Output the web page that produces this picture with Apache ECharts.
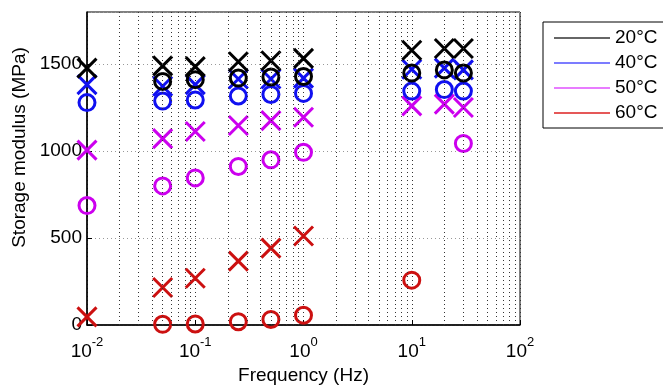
<!DOCTYPE html>
<html>
<head>
<meta charset="utf-8">
<script src="https://cdn.jsdelivr.net/npm/echarts@6/dist/echarts.min.js"></script>
<style>
  html, body { margin: 0; padding: 0; background: #fff; }
  #chart-container { width: 663px; height: 390px; }
</style>
</head>
<body>
<div id="chart-container"></div>
<script>
// frequencies (Hz) shared by all series
var freqs = [0.01, 0.05, 0.1, 0.25, 0.5, 1, 10, 20, 30];

// storage modulus (MPa), X markers and O markers per temperature (null = no point)
var x20 = [1477, 1490, 1486, 1514, 1520, 1533, 1580, 1590, 1590];
var o20 = [null, 1401, 1411, 1420, 1426, 1429, 1449, 1467, 1449];
var x40 = [1382, 1373, 1382, 1415, 1415, 1420, 1471, 1477, 1467];
var o40 = [1279, 1288, 1294, 1317, 1326, 1332, 1345, 1354, 1345];
var x50 = [1006, 1072, 1113, 1147, 1175, 1195, 1260, 1270, 1251];
var o50 = [687, 800, 846, 912, 950, 993, null, null, 1044];
var x60 = [47, 216, 269, 367, 442, 512, null, null, null];
var o60 = [null, 4, 6, 19, 32, 56, 258, null, null];

var legendNames = ['20°C', '40°C', '50°C', '60°C'];

// x tick labels: 10^exp
var xTickValues = [0.01, 0.1, 1, 10, 100];
var xTickExps = ['-2', '-1', '0', '1', '2'];

// minor log grid lines
var decades = [0.01, 0.1, 1, 10];
var minorSteps = [2, 3, 4, 5, 6, 7, 8, 9];

var colors = {
  '20°C': '#000000',
  '40°C': '#1010f0',
  '50°C': '#cc00ee',
  '60°C': '#cc1010'
};
var legendColors = ['#333333', '#5050ff', '#e050ff', '#dd2020'];

var crossPath = 'path://M0,0 L10,10 M10,0 L0,10';

function pairs(vals) {
  var out = [];
  for (var i = 0; i < freqs.length; i++) {
    if (vals[i] !== null) out.push([freqs[i], vals[i]]);
  }
  return out;
}

function markerSeries(name, vals, isCross) {
  return {
    name: name,
    type: 'scatter',
    data: pairs(vals),
    symbol: isCross ? crossPath : 'circle',
    symbolSize: isCross ? 19 : 16,
    clip: false,
    itemStyle: {
      color: 'none',
      borderColor: colors[name],
      borderWidth: 3,
      opacity: 1
    },
    emphasis: { disabled: true }
  };
}

var minorLines = [];
decades.forEach(function(d) {
  minorSteps.forEach(function(s) {
    minorLines.push({ xAxis: +(d * s).toPrecision(6) });
  });
});

var dom = document.getElementById('chart-container');
var myChart = echarts.init(dom, null, { renderer: 'canvas' });

var series = [
  markerSeries('60°C', x60, true),
  markerSeries('60°C', o60, false),
  markerSeries('50°C', x50, true),
  markerSeries('50°C', o50, false),
  markerSeries('40°C', x40, true),
  markerSeries('40°C', o40, false),
  markerSeries('20°C', x20, true),
  markerSeries('20°C', o20, false)
];
series[0].markLine = {
  silent: true,
  symbol: 'none',
  label: { show: false },
  lineStyle: { color: '#333', width: 1, type: [1, 3], opacity: 1 },
  data: minorLines
};

var option = {
  animation: false,
  textStyle: { fontFamily: 'Liberation Sans' },
  grid: {
    left: 87, top: 12, right: 143, bottom: 60,
    show: true, borderColor: '#000', borderWidth: 1
  },
  legend: {
    orient: 'vertical',
    left: 543,
    top: 22,
    padding: [6, 10, 5, 11],
    itemGap: 5,
    itemWidth: 56,
    itemHeight: 1.5,
    icon: 'rect',
    borderColor: '#000',
    borderWidth: 1,
    selectedMode: false,
    textStyle: { fontSize: 19, color: '#000', fontFamily: 'Liberation Sans', lineHeight: 20 },
    data: legendNames.map(function(n, i) {
      return { name: n, itemStyle: { color: legendColors[i], borderWidth: 0 } };
    })
  },
  xAxis: {
    type: 'log',
    logBase: 10,
    min: 0.01,
    max: 100,
    name: 'Frequency (Hz)',
    nameLocation: 'middle',
    nameGap: 41,
    nameTextStyle: { fontSize: 19, color: '#000', fontFamily: 'Liberation Sans' },
    axisLine: { lineStyle: { color: '#000', width: 1.5 } },
    axisTick: { inside: true, length: 5, lineStyle: { color: '#000' } },
    splitLine: { show: true, lineStyle: { color: '#333', width: 1, type: [1, 3] } },
    axisLabel: {
      margin: 11,
      color: '#000',
      formatter: function(v) {
        var best = 0;
        for (var i = 0; i < xTickValues.length; i++) {
          if (Math.abs(Math.log10(xTickValues[i]) - Math.log10(v)) < Math.abs(Math.log10(xTickValues[best]) - Math.log10(v))) best = i;
        }
        return '{b|10}{s|' + xTickExps[best] + '}';
      },
      rich: {
        b: { fontSize: 19, lineHeight: 25, verticalAlign: 'bottom', color: '#000', fontFamily: 'Liberation Sans' },
        s: { fontSize: 13, lineHeight: 13, verticalAlign: 'top', color: '#000', fontFamily: 'Liberation Sans' }
      }
    }
  },
  yAxis: {
    type: 'value',
    min: 0,
    max: 1800,
    interval: 500,
    name: 'Storage modulus (MPa)',
    nameLocation: 'middle',
    nameGap: 58,
    nameTextStyle: { fontSize: 19, color: '#000', fontFamily: 'Liberation Sans', padding: [0, 0, 0, 42] },
    axisLine: { show: true, lineStyle: { color: '#000', width: 1.5 } },
    axisTick: { show: true, inside: true, length: 5, lineStyle: { color: '#000' } },
    splitLine: { show: true, lineStyle: { color: '#999', width: 1, type: [1, 3] } },
    axisLabel: {
      margin: 5, fontSize: 19, color: '#000', showMaxLabel: false, fontFamily: 'Liberation Sans',
      formatter: function(v) { return String(v); }
    }
  },
  series: series
};

myChart.setOption(option);
window.addEventListener('resize', myChart.resize);
</script>
</body>
</html>
